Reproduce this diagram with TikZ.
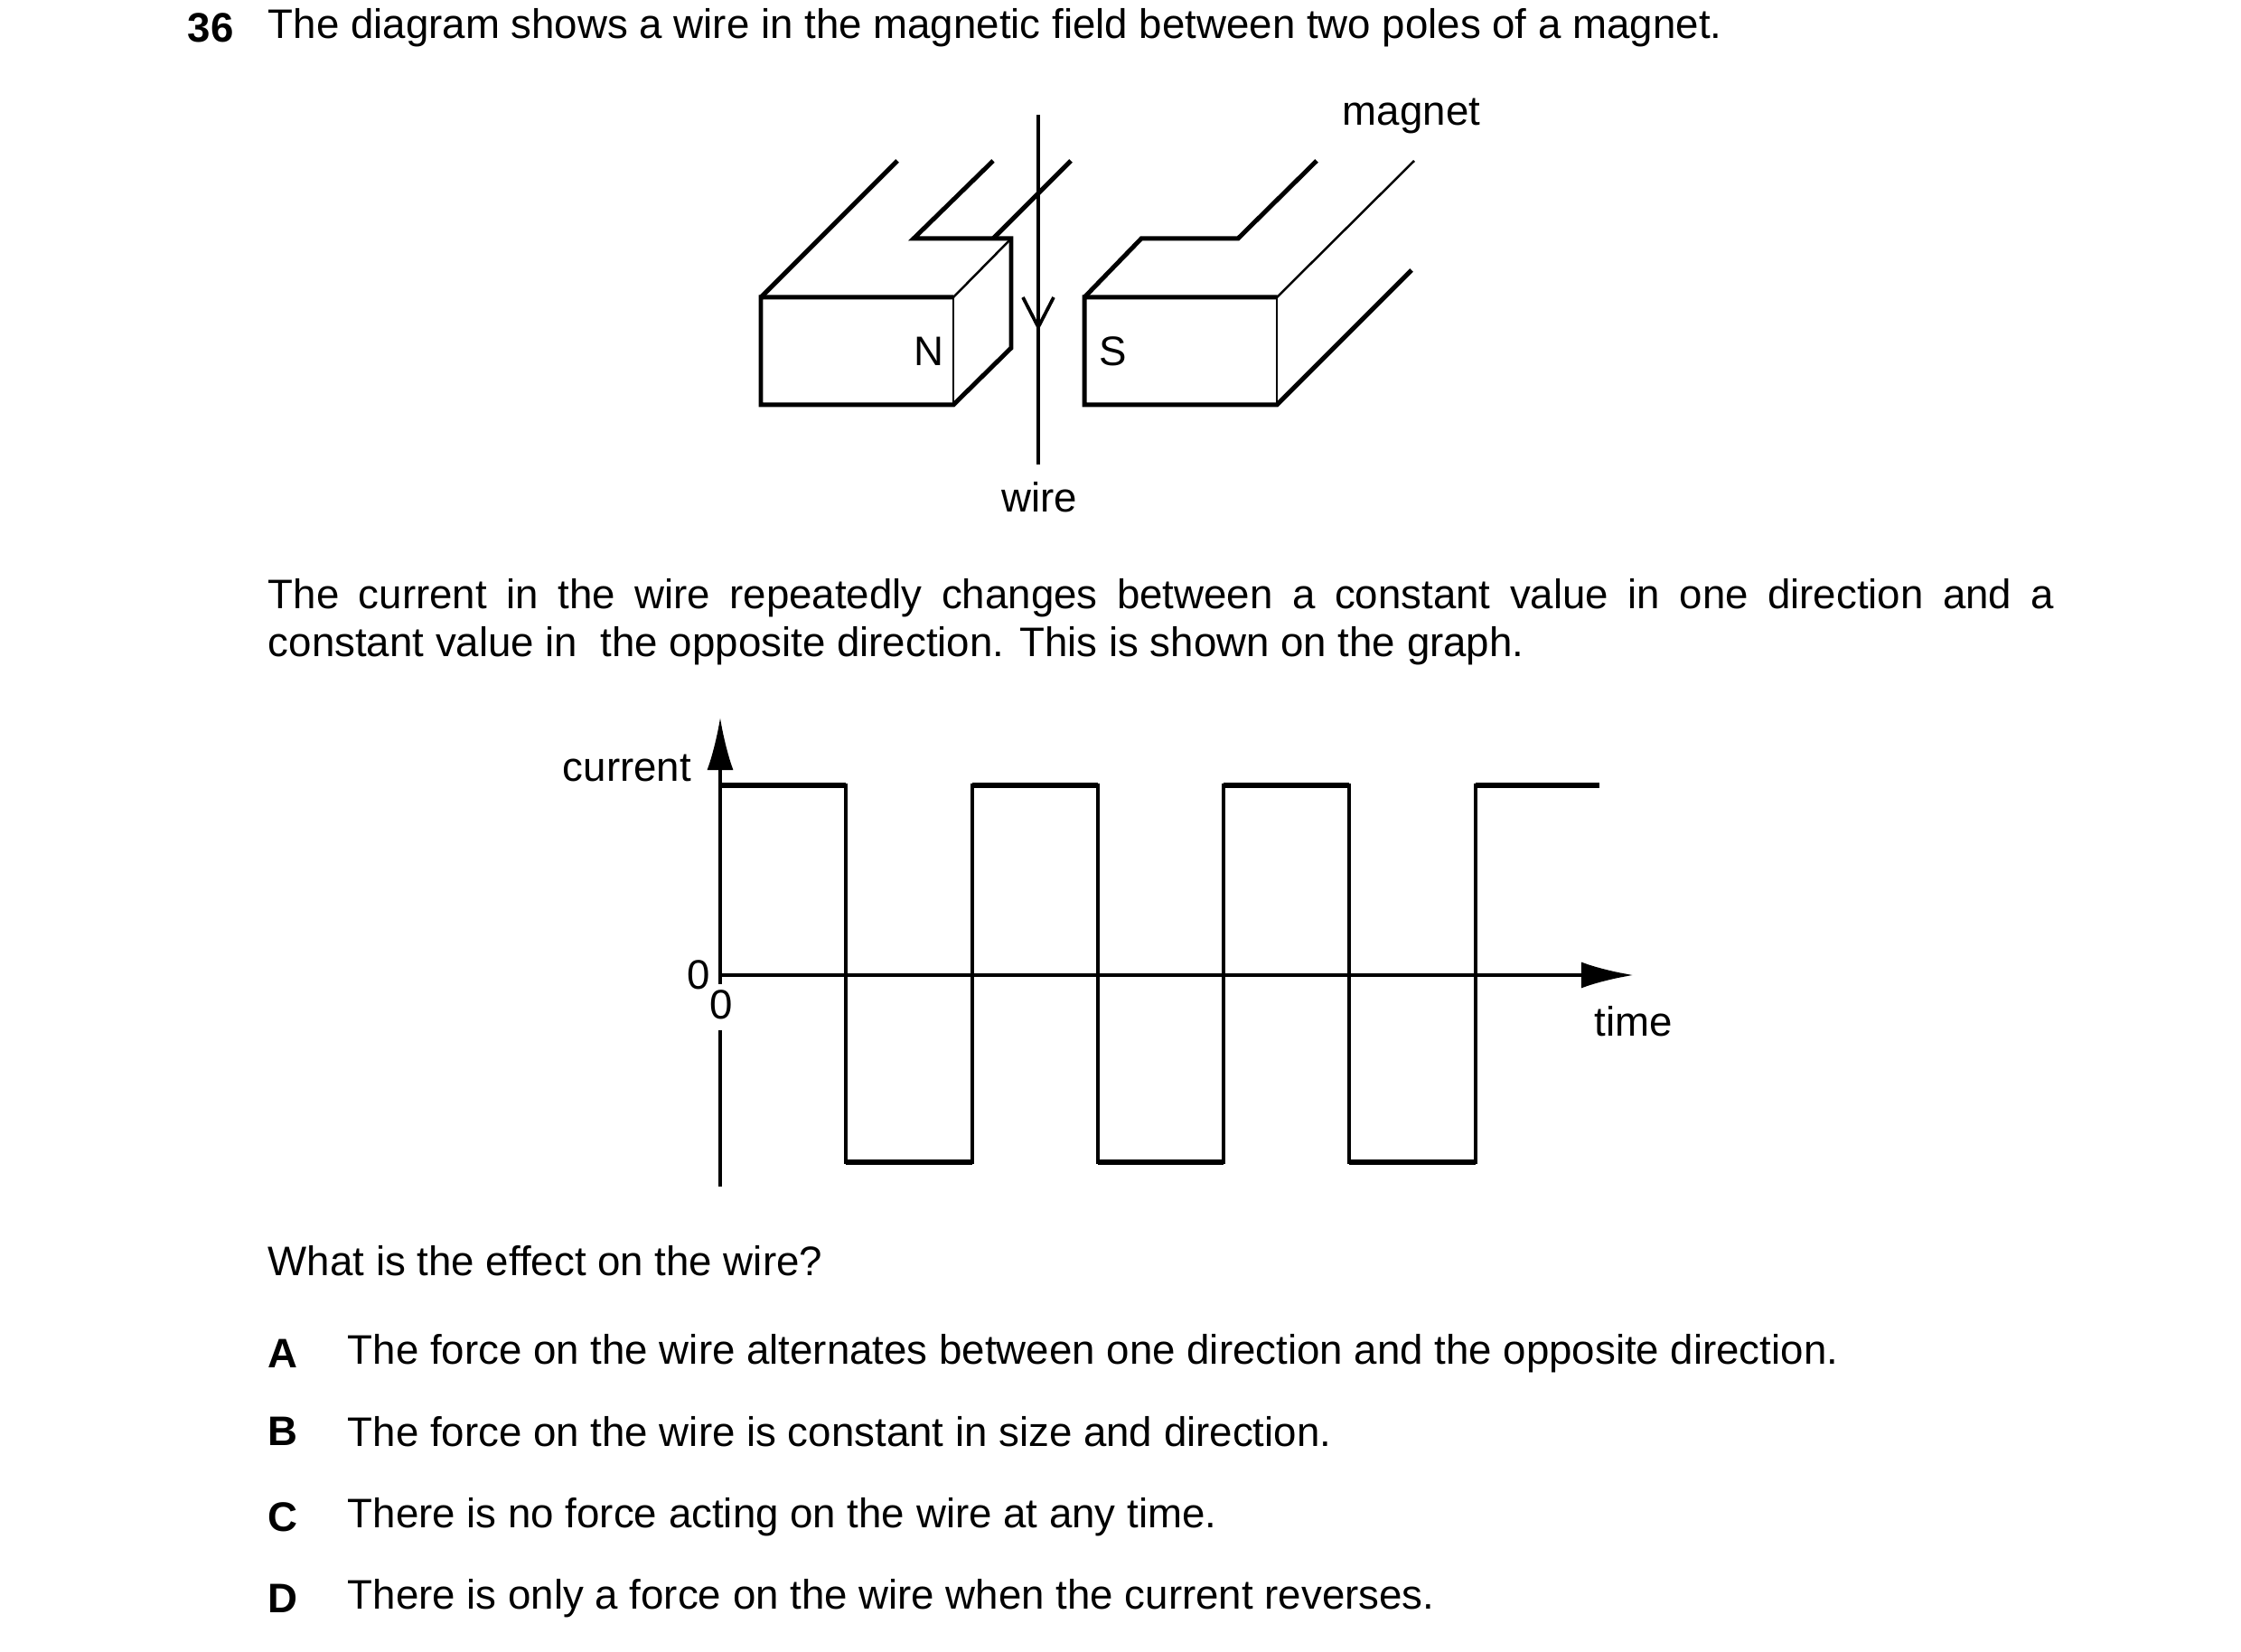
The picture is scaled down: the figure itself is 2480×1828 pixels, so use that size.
\documentclass[tikz,border=0pt]{standalone}
\usepackage{fontspec}
\setmainfont{Liberation Sans}
\usetikzlibrary{arrows.meta}
\begin{document}
\begin{tikzpicture}[x=0.008467cm,y=-0.008467cm,
  thick line/.style={line width=1.2pt,line join=miter},
  thin line/.style={line width=0.6pt},
  lbl/.style={inner sep=0pt,font=\fontsize{11}{13}\selectfont},
  wave/.style={line width=0.8pt}]
\useasboundingbox[fill=white] (0,0) rectangle (2480,1828);
% header
\node[lbl,anchor=west,font=\fontsize{11}{13}\selectfont\bfseries] (num) at (207,31) {36};
\node[lbl,anchor=west] (title) at (296,31) {The diagram shows a wire in the magnetic field between two poles of a magnet.};
% N magnet
\draw[thick line] (1055,329) -- (842,329) -- (842,448) -- (1055,448) -- (1119,385) -- (1119,264) -- (1011,264) -- (1099,178);
\draw[thick line] (842,329) -- (993,178);
\draw[thick line] (1099,264) -- (1185,178);
\draw[thin line] (1055,329) -- (1055,448);
\draw[thin line] (1055,329) -- (1119,264);
% S magnet
\draw[thick line] (1413,329) -- (1200,329) -- (1200,448) -- (1413,448) -- (1562,299);
\draw[thick line] (1200,329) -- (1263,264) -- (1370,264) -- (1457,178);
\draw[thin line] (1413,329) -- (1413,448);
\draw[thin line] (1413,329) -- (1565,178);
% wire
\coordinate (wtop) at (1149,127);
\coordinate (wbot) at (1149,514);
\draw[line width=0.9pt] (wtop) -- (wbot);
\draw[line width=0.9pt] (1132,329) -- (1149,362) -- (1166,329);
\node[lbl] (N) at (1028,389) {N};
\node[lbl] (S) at (1232,389) {S};
\node[lbl] (magnet) at (1562,128) {magnet};
\node[lbl] (wirel) at (1150,550) {wire};
% paragraph
\node[lbl,anchor=north west,text width=16.74cm,align=justify,font=\fontsize{11}{12.6}\selectfont] (para) at (296,640)
 {The current in the wire repeatedly changes between a constant value in one direction and a\linebreak constant value in\ \ the opposite direction. This is shown on the graph.};
% graph
\coordinate (ytop) at (797,794);
\coordinate (yorig) at (797,1089);
\coordinate (ylow) at (797,1140);
\coordinate (ybot) at (797,1313);
\coordinate (tend) at (1808,1079);
\draw[line width=0.8pt,-{Latex[length=14pt,width=7pt]}] (yorig) -- (ytop);
\draw[line width=0.8pt] (ylow) -- (ybot);
\draw[line width=1.1pt,-{Latex[length=14pt,width=7pt]}] (797,1079) -- (tend);
\draw[wave] (797,869) -- (936,869) -- (936,1286) -- (1076,1286) -- (1076,869) -- (1215,869) -- (1215,1286) -- (1354,1286) -- (1354,869) -- (1493,869) -- (1493,1286) -- (1633,1286) -- (1633,869) -- (1770,869);
\draw[line width=1.4pt] (797,869) -- (936,869) (1076,869) -- (1215,869) (1354,869) -- (1493,869) (1633,869) -- (1770,869);
\draw[line width=1.4pt] (936,1286) -- (1076,1286) (1215,1286) -- (1354,1286) (1493,1286) -- (1633,1286);
\node[lbl] (current) at (694,850) {current};
\node[lbl] (zero1) at (773,1079) {0};
\node[lbl] (zero2) at (798,1112) {0};
\node[lbl] (time) at (1808,1130) {time};
% question
\node[lbl,anchor=west] (q) at (296,1395) {What is the effect on the wire?};
\node[lbl,anchor=west,font=\fontsize{11}{13}\selectfont\bfseries] (A) at (296,1498) {A};
\node[lbl,anchor=west] (At) at (384,1498) {The force on the wire alternates between one direction and the opposite direction.};
\node[lbl,anchor=west,font=\fontsize{11}{13}\selectfont\bfseries] (B) at (296,1584) {B};
\node[lbl,anchor=west] (Bt) at (384,1584) {The force on the wire is constant in size and direction.};
\node[lbl,anchor=west,font=\fontsize{11}{13}\selectfont\bfseries] (C) at (296,1679) {C};
\node[lbl,anchor=west] (Ct) at (384,1679) {There is no force acting on the wire at any time.};
\node[lbl,anchor=west,font=\fontsize{11}{13}\selectfont\bfseries] (D) at (296,1769) {D};
\node[lbl,anchor=west] (Dt) at (384,1769) {There is only a force on the wire when the current reverses.};
\end{tikzpicture}
\end{document}
